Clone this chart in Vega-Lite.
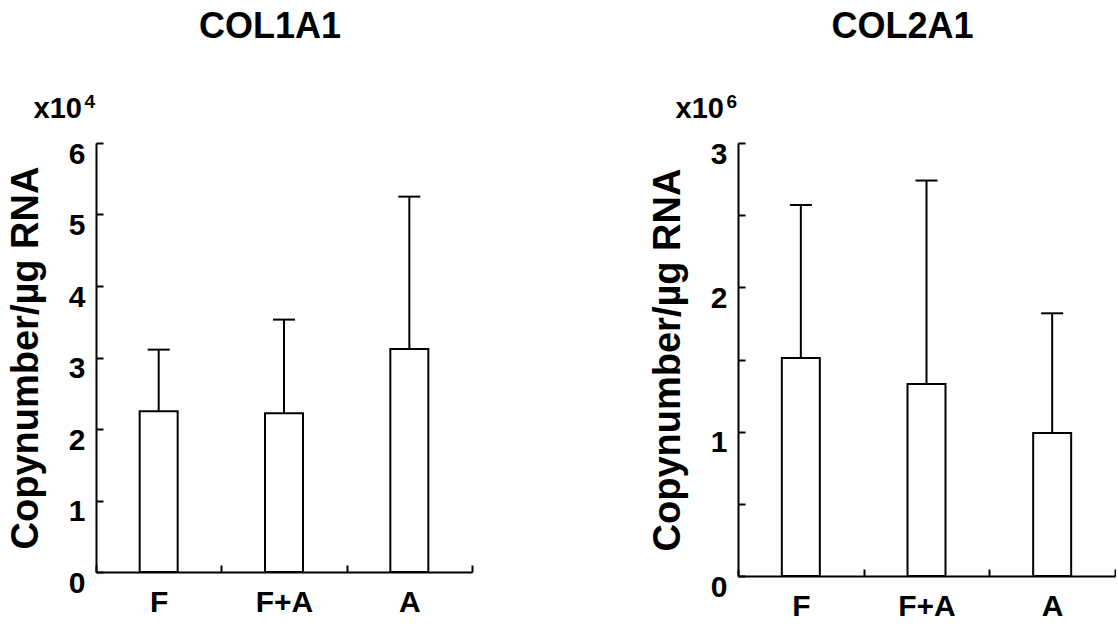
{
  "$schema": "https://vega.github.io/schema/vega-lite/v6.json",
  "background": "white",
  "padding": {"left": 7, "top": 8, "right": 0, "bottom": 0},
  "spacing": 176,
  "config": {
    "view": {"stroke": null},
    "font": "Liberation Sans",
    "axis": {
      "domainColor": "black", "domainWidth": 2, "tickColor": "black", "tickWidth": 2,
      "labelColor": "black", "labelFont": "Liberation Sans", "labelFontWeight": "bold", "labelFontSize": 30,
      "titleColor": "black", "titleFont": "Liberation Sans", "titleFontWeight": "bold", "grid": false
    },
    "title": {"font": "Liberation Sans", "fontWeight": "bold", "fontSize": 36, "color": "black"}
  },
  "datasets": {
    "col1a1": [
      {"group": "F", "mean": 2.25, "upper": 3.11},
      {"group": "F+A", "mean": 2.22, "upper": 3.53},
      {"group": "A", "mean": 3.12, "upper": 5.25}
    ],
    "col2a1": [
      {"group": "F", "mean": 1.51, "upper": 2.57},
      {"group": "F+A", "mean": 1.33, "upper": 2.74},
      {"group": "A", "mean": 0.99, "upper": 1.82}
    ]
  },
  "hconcat": [
    {
      "width": 376, "height": 429,
      "title": {"text": "COL1A1", "dx": -14, "offset": 47},
      "data": {"name": "col1a1"},
      "encoding": {
        "x": {"field": "group", "type": "nominal", "sort": ["F", "F+A", "A"],
              "scale": {"paddingInner": 0, "paddingOuter": 0},
              "axis": {"title": null, "labelAngle": 0, "tickBand": "extent", "tickSize": -7, "labelPadding": 22}}
      },
      "layer": [
        {"mark": {"type": "bar", "fill": "white", "stroke": "black", "strokeWidth": 2, "width": 38},
         "encoding": {"y": {"field": "mean", "type": "quantitative", "scale": {"domain": [0, 6]},
           "axis": {"title": "Copynumber/µg RNA", "titleFontSize": 38, "titlePadding": 23, "values": [0,1,2,3,4,5,6], "format": "d", "tickSize": -7, "labelOffset": 11, "labelPadding": 18}}}},
        {"mark": {"type": "rule", "strokeWidth": 2, "color": "black"},
         "encoding": {"y": {"field": "mean", "type": "quantitative"}, "y2": {"field": "upper"}}},
        {"mark": {"type": "tick", "thickness": 2, "size": 22, "color": "black", "opacity": 1},
         "encoding": {"y": {"field": "upper", "type": "quantitative"}}},
        {"data": {"values": [{"t": "x10"}]},
         "mark": {"type": "text", "align": "right", "baseline": "alphabetic", "fontSize": 29, "fontWeight": "bold", "color": "black", "dx": -14},
         "encoding": {"x": {"datum": "F", "bandPosition": 0}, "y": {"datum": 6.35}, "text": {"field": "t"}}},
        {"data": {"values": [{"t": "4"}]},
         "mark": {"type": "text", "align": "right", "baseline": "alphabetic", "fontSize": 19, "fontWeight": "bold", "color": "black", "dx": -1, "dy": -10},
         "encoding": {"x": {"datum": "F", "bandPosition": 0}, "y": {"datum": 6.35}, "text": {"field": "t"}}}
      ]
    },
    {
      "width": 377, "height": 433,
      "title": {"text": "COL2A1", "dx": -24, "offset": 47},
      "data": {"name": "col2a1"},
      "encoding": {
        "x": {"field": "group", "type": "nominal", "sort": ["F", "F+A", "A"],
              "scale": {"paddingInner": 0, "paddingOuter": 0},
              "axis": {"title": null, "labelAngle": 0, "tickBand": "extent", "tickSize": -7, "labelPadding": 22}}
      },
      "layer": [
        {"mark": {"type": "bar", "fill": "white", "stroke": "black", "strokeWidth": 2, "width": 38},
         "encoding": {"y": {"field": "mean", "type": "quantitative", "scale": {"domain": [0, 3]},
           "axis": {"title": "Copynumber/µg RNA", "titleFontSize": 38, "titlePadding": 23, "values": [0,0.5,1,1.5,2,2.5,3],
                    "labelExpr": "datum.value % 1 === 0 ? format(datum.value, 'd') : ''", "tickSize": -7, "labelOffset": 11, "labelPadding": 18}}}},
        {"mark": {"type": "rule", "strokeWidth": 2, "color": "black"},
         "encoding": {"y": {"field": "mean", "type": "quantitative"}, "y2": {"field": "upper"}}},
        {"mark": {"type": "tick", "thickness": 2, "size": 22, "color": "black", "opacity": 1},
         "encoding": {"y": {"field": "upper", "type": "quantitative"}}},
        {"data": {"values": [{"t": "x10"}]},
         "mark": {"type": "text", "align": "right", "baseline": "alphabetic", "fontSize": 29, "fontWeight": "bold", "color": "black", "dx": -14},
         "encoding": {"x": {"datum": "F", "bandPosition": 0}, "y": {"datum": 3.175}, "text": {"field": "t"}}},
        {"data": {"values": [{"t": "6"}]},
         "mark": {"type": "text", "align": "right", "baseline": "alphabetic", "fontSize": 19, "fontWeight": "bold", "color": "black", "dx": -1, "dy": -10},
         "encoding": {"x": {"datum": "F", "bandPosition": 0}, "y": {"datum": 3.175}, "text": {"field": "t"}}}
      ]
    }
  ]
}
